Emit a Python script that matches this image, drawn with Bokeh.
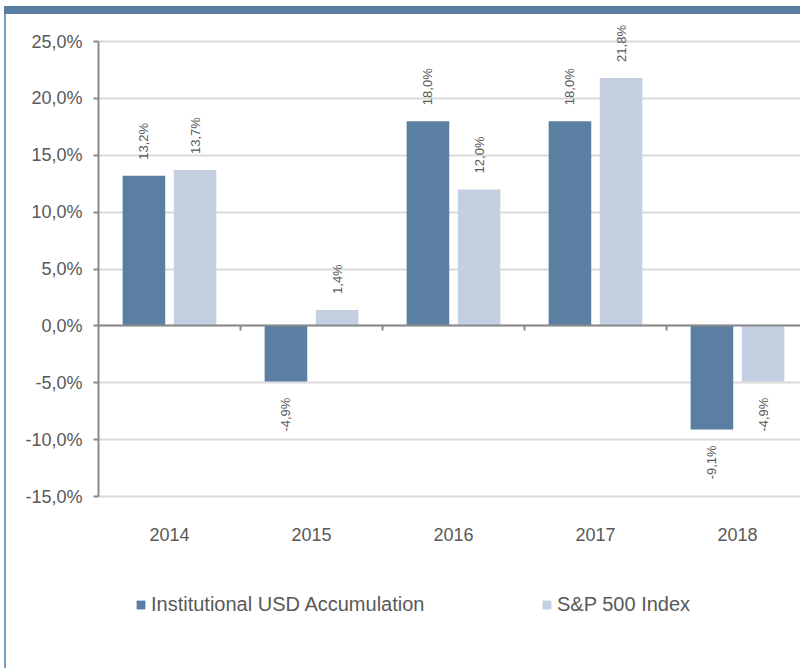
import math
from bokeh.plotting import figure
from bokeh.models import ColumnDataSource, LinearAxis, FixedTicker, Legend, LegendItem
from bokeh.embed import file_html
from bokeh.resources import INLINE
from bokeh.core.properties import value
from bokeh.transform import dodge

# ---- data ----
years = ["2014", "2015", "2016", "2017", "2018"]
fund = [13.2, -4.9, 18.0, 18.0, -9.1]
index = [13.7, 1.4, 12.0, 21.8, -4.9]
series_names = ["Institutional USD Accumulation", "S&P 500 Index"]
y_ticks = [-15, -10, -5, 0, 5, 10, 15, 20, 25]

# ---- style ----
FONT = "Liberation Sans"
TXT = "#595959"
DARK = "#5b7fa3"
LIGHT = "#c4d0e2"
AXIS = "#898989"
GRID = "#d9d9d9"
OFF = 0.18
BW = 0.30
PX = 11.375  # pixels per percentage point


def fmt(v):
    return f"{v:.1f}".replace(".", ",") + "%"


xc = [i + 0.5 for i in range(len(years))]
src = ColumnDataSource(dict(x=xc, year=years, fund=fund, index=index))

y_lo, y_hi = y_ticks[0], y_ticks[-1]
p = figure(width=800, height=668, output_backend="svg", toolbar_location=None,
           x_range=(0, 702 / 142),
           y_range=(y_lo - 172 / PX, y_hi + 21 / PX),
           x_axis_location=None,
           min_border_left=98, min_border_right=0, min_border_top=20, min_border_bottom=0)
p.outline_line_color = None
p.border_fill_alpha = 0
p.styles = {
    "background-image": "linear-gradient(#5b7fa3, #5b7fa3), linear-gradient(#7b9cc2, #7b9cc2)",
    "background-position": "4px 6px, 4px 14px",
    "background-size": "796px 8px, 2px 654px",
    "background-repeat": "no-repeat",
}
p.xgrid.grid_line_color = None
p.ygrid.grid_line_color = GRID
p.ygrid.grid_line_width = 2
p.ygrid.ticker = FixedTicker(ticks=y_ticks)

# y axis
p.yaxis.bounds = (y_lo, y_hi)
p.yaxis.ticker = FixedTicker(ticks=y_ticks)
p.yaxis.major_label_overrides = {t: fmt(t) for t in y_ticks}
p.yaxis.axis_line_color = AXIS
p.yaxis.axis_line_width = 2
p.yaxis.major_tick_line_color = AXIS
p.yaxis.major_tick_line_width = 2
p.yaxis.major_tick_in = 0
p.yaxis.major_tick_out = 5
p.yaxis.minor_tick_line_color = None
p.yaxis.major_label_standoff = 11
p.yaxis.major_label_text_font = FONT
p.yaxis.major_label_text_font_size = "18px"
p.yaxis.major_label_text_color = TXT

# x axis (category labels) fixed at the bottom of the value scale
xaxis = LinearAxis(fixed_location=y_lo, ticker=FixedTicker(ticks=xc),
                   major_label_overrides={x: y for x, y in zip(xc, years)},
                   axis_line_color=None, major_tick_line_color=None,
                   minor_tick_line_color=None, major_label_standoff=25,
                   major_label_text_font=FONT, major_label_text_font_size="18px",
                   major_label_text_color=TXT)
p.add_layout(xaxis, "below")

# bars
r1 = p.vbar(x=dodge("x", -OFF, range=p.x_range), top="fund", bottom=0, width=BW,
            source=src, fill_color=DARK, line_color=None)
r2 = p.vbar(x=dodge("x", OFF, range=p.x_range), top="index", bottom=0, width=BW,
            source=src, fill_color=LIGHT, line_color=None)

# zero axis line with category separator ticks
bounds = list(range(1, len(years)))
zaxis = LinearAxis(fixed_location=0, ticker=FixedTicker(ticks=bounds),
                   major_label_overrides={b: "" for b in bounds},
                   axis_line_color=AXIS, axis_line_width=2,
                   major_tick_line_color=AXIS, major_tick_line_width=2,
                   major_tick_in=0, major_tick_out=5, minor_tick_line_color=None)
p.add_layout(zaxis, "below")

# value labels
for vals, off in ((fund, -OFF), (index, OFF)):
    pos = [(x + off, v, fmt(v)) for x, v in zip(xc, vals) if v >= 0]
    neg = [(x + off, v, fmt(v)) for x, v in zip(xc, vals) if v < 0]
    for data, align, yo in ((pos, "left", -16), (neg, "right", 16)):
        if not data:
            continue
        s = ColumnDataSource(dict(x=[d[0] for d in data], y=[d[1] for d in data],
                                  t=[d[2] for d in data]))
        p.text(x="x", y="y", text="t", source=s, angle=math.pi / 2,
               text_align=align, text_baseline="middle", y_offset=yo,
               text_font=value(FONT), text_font_size="13px", text_color=TXT)

# legends
for r, name, vx in ((r1, series_names[0], 37), (r2, series_names[1], 443)):
    lg = Legend(items=[LegendItem(label=name, renderers=[r])], location=(vx, 52),
                orientation="horizontal", padding=0, margin=0, spacing=0,
                border_line_color=None, background_fill_alpha=0,
                glyph_width=11, glyph_height=11, label_standoff=5,
                label_text_font=FONT, label_text_font_size="20px", label_text_color=TXT)
    p.add_layout(lg, "center")

open("out.html", "w").write(file_html(p, INLINE))
